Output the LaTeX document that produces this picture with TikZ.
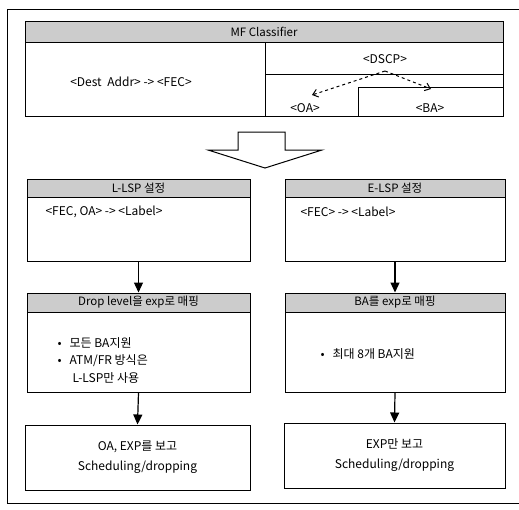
\documentclass[tikz,border=0pt]{standalone}
\usepackage{fontspec}
\setmainfont{Noto Sans CJK KR}
\usetikzlibrary{arrows.meta}
\tikzset{
	hdr/.style={draw, fill=gray!40, inner sep=0pt, font=\fontsize{11.5}{13}\selectfont},
	cell/.style={draw, inner sep=0pt},
	txt/.style={inner sep=0pt, font=\fontsize{12}{20}\selectfont},
	flow/.style={-{Triangle[length=10pt,width=9pt]}, line width=1.2pt},
	pick/.style={-{Straight Barb[length=5pt,width=8pt]}, dashed, line width=1pt},
}

\begin{document}
\begin{tikzpicture}[x=1pt, y=-1pt, line width=1pt]
				\useasboundingbox (0,0) rectangle (519,509);
				\begin{scope}
					\draw (519,9) -- (7,9) -- (7,503) -- (519,503);
					
					\node[hdr, minimum width=478pt, minimum height=21pt] (mfhdr) at (264,31.5) {MF Classifier};
					\node[cell, minimum width=240pt, minimum height=74pt] (destcell) at (145,79) {};
					\node[cell, minimum width=238pt, minimum height=32pt] (dscpcell) at (384,58) {};
					\node[cell, minimum width=238pt, minimum height=42pt] (phbcell) at (384,95) {};
					\node[cell, minimum width=145pt, minimum height=29pt] (bacell) at (430.5,101.5) {};
					
					\node[txt] (dest) at (131,82) {<Dest\hspace{3pt} Addr> -> <FEC>};
					\node[txt] (dscp) at (385,59) {<DSCP>};
					\node[txt] (oa) at (305,108) {<OA>};
					\node[txt] (ba) at (430,108) {<BA>};
					
					\coordinate (dsrc) at (385,71);
					\coordinate (oatip) at (312,95);
					\coordinate (batip) at (431,89);
					\draw[pick] (dsrc)--(oatip);
					\draw[pick] (dsrc)--(batip);
					
					\draw[line width=1pt] (238,132) -- (285,132) -- (285,150) -- (322,150) -- (265,168) -- (208,150) -- (238,150) -- cycle;
					
					\node[hdr, minimum width=223pt, minimum height=18pt] (llsphdr) at (138.5,188) {L-LSP 설정};
					\node[cell, minimum width=223pt, minimum height=64pt] (llspbody) at (138.5,229) {};
					\node[txt, anchor=west] (llsplabel) at (45,212) {<FEC, OA> -> <Label>};
					
					\node[hdr, minimum width=223pt, minimum height=19pt] (drophdr) at (138.5,302.5) {Drop level을 exp로 매핑};
					\node[cell, minimum width=223pt, minimum height=80pt] (dropbody) at (138.5,352) {};
					\node[txt, anchor=west] (dropbulla) at (57,343) {\textbullet\hspace{8pt}모든 BA지원};
					\node[txt, anchor=west] (dropbullb) at (57,361) {\textbullet\hspace{8pt}ATM/FR 방식은};
					\node[txt, anchor=west] (dropbullc) at (72,378) {L-LSP만 사용};
					
					\node[cell, txt, minimum width=225pt, minimum height=65pt, align=center] (lsched) at (137.5,457.5) {OA, EXP를 보고\\Scheduling/dropping};
					
					\node[hdr, minimum width=220pt, minimum height=18pt] (elsphdr) at (395,188) {E-LSP 설정};
					\node[cell, minimum width=220pt, minimum height=64pt] (elspbody) at (395,229) {};
					\node[txt, anchor=west] (elsplabel) at (300,212) {<FEC> -> <Label>};
					
					\node[hdr, minimum width=220pt, minimum height=19pt] (bahdr) at (395,302.5) {BA를 exp로 매핑};
					\node[cell, minimum width=220pt, minimum height=80pt] (babody) at (395,352) {};
					\node[txt, anchor=west] (babull) at (320,354) {\textbullet\hspace{8pt}최대 8개 BA지원};
					
					\node[cell, txt, minimum width=221pt, minimum height=65pt, align=center] (rsched) at (394.5,455.5) {EXP만 보고\\Scheduling/dropping};
					
					\draw[flow] (llspbody.south)--(drophdr.north);
					\draw[flow] (dropbody.south)--(lsched.north);
					\draw[flow] (elspbody.south)--(bahdr.north);
					\draw[flow] (babody.south)--(rsched.north);
				\end{scope}
			\end{tikzpicture}
\end{document}
